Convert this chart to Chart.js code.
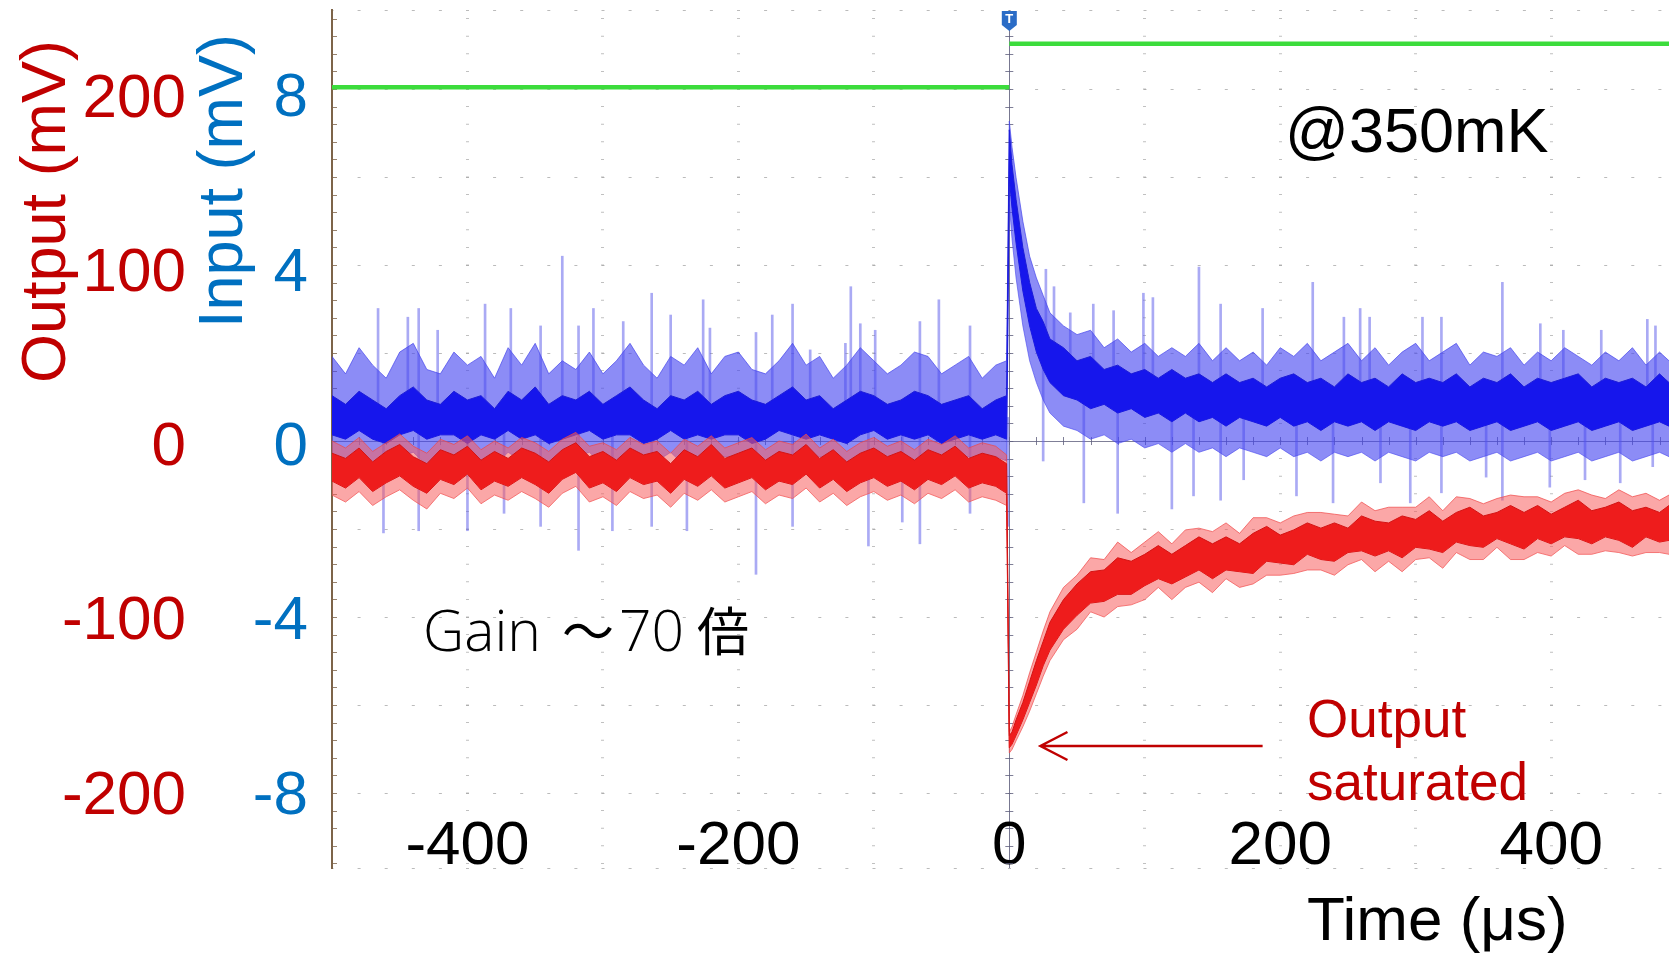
<!DOCTYPE html>
<html>
<head>
<meta charset="utf-8">
<title>Output saturated @350mK</title>
<script src="https://cdn.jsdelivr.net/npm/chart.js@4.4.1/dist/chart.umd.min.js"></script>
<style>
  html, body { margin: 0; padding: 0; background: #fff; }
  #wrap { position: relative; width: 1669px; height: 954px; }
</style>
</head>
<body>
<div id="wrap"><canvas id="scope" width="1669" height="954"></canvas></div>
<script>
/* ============================================================
   Scope capture: input / output of the amplifier at 350 mK
   ============================================================ */

// time base (µs) shared by every envelope array below
const sampleTimes = [
  -500,-490,-480,-470,-460,-450,-440,-430,-420,-410,
  -400,-390,-380,-370,-360,-350,-340,-330,-320,-310,
  -300,-290,-280,-270,-260,-250,-240,-230,-220,-210,
  -200,-190,-180,-170,-160,-150,-140,-130,-120,-110,
  -100,-90,-80,-70,-60,-50,-40,-30,-20,-10,
  -2,
  0,2,5,10,15,20,25,30,40,50,
  60,70,80,90,100,110,120,130,140,150,
  160,170,180,190,200,210,220,230,240,250,
  260,270,280,290,300,310,320,330,340,350,
  360,370,380,390,400,410,420,430,440,450,
  460,470,480,487
];

// Input (blue, mV) - outer envelope
const blueOuterHi = [
  2.1,1.7,2.3,1.9,1.6,2.2,2.4,1.8,1.7,2.2, 1.9,2.1,1.6,2.3,1.9,2.4,1.7,2.0,1.8,2.2,
  1.7,2.0,2.4,1.9,1.6,2.1,1.9,2.3,1.7,2.1, 2.2,1.8,1.7,2.0,2.4,1.9,2.1,1.6,1.9,2.3,
  2.0,1.7,1.9,2.2,2.1,1.7,1.9,2.1,1.6,1.9, 2.0,
  7.5,6.9,6.2,5.2,4.4,3.9,3.5,3.1,2.8,2.6, 2.7,2.3,2.5,2.2,2.4,2.1,2.3,2.1,2.4,2.0,
  2.3,2.0,2.2,1.9,2.3,2.1,2.4,2.0,2.2,2.4, 2.0,2.3,1.9,2.2,2.4,2.0,2.2,2.4,1.9,2.2,
  2.1,2.3,1.9,2.2,2.0,2.3,2.1,1.9,2.2,2.0, 2.3,1.9,2.2,2.0
];
const blueOuterLo = [
  -0.2,-0.4,-0.1,-0.3,-0.5,-0.2,-0.1,-0.4,-0.3,-0.2, -0.5,-0.3,-0.4,-0.1,-0.3,-0.2,-0.5,-0.4,-0.2,-0.1,
  -0.4,-0.3,-0.2,-0.5,-0.3,-0.1,-0.4,-0.2,-0.3,-0.2, -0.2,-0.5,-0.3,-0.1,-0.2,-0.4,-0.2,-0.3,-0.5,-0.2,
  -0.1,-0.4,-0.2,-0.3,-0.2,-0.5,-0.3,-0.2,-0.4,-0.2, -0.3,
  5.6,4.8,3.9,2.8,2.0,1.5,1.1,0.8,0.5,0.4, 0.2,0.3,0.1,0.2,0.0,0.1,-0.1,0.1,-0.1,0.0,
  -0.2,0.0,-0.1,-0.2,0.0,-0.2,-0.1,-0.3,-0.1,-0.2, -0.1,-0.3,-0.1,-0.2,-0.3,-0.1,-0.2,-0.1,-0.3,-0.2,
  -0.1,-0.3,-0.2,-0.1,-0.3,-0.2,-0.1,-0.3,-0.2,-0.1, -0.3,-0.2,-0.1,-0.2
];
// Input (blue, mV) - dense core of the trace
const blueCoreHi = [
  1.2,1.0,1.3,1.1,0.9,1.2,1.4,1.1,1.0,1.3, 1.1,1.2,0.9,1.3,1.1,1.4,1.0,1.2,1.1,1.3,
  1.0,1.2,1.4,1.1,0.9,1.2,1.1,1.3,1.0,1.2, 1.3,1.1,1.0,1.2,1.4,1.1,1.2,0.9,1.1,1.3,
  1.2,1.0,1.1,1.3,1.2,1.0,1.1,1.2,0.9,1.1, 1.2,
  7.3,6.5,5.7,4.6,3.8,3.2,2.9,2.5,2.3,2.0, 2.1,1.8,1.9,1.7,1.8,1.6,1.8,1.6,1.7,1.5,
  1.7,1.5,1.6,1.4,1.6,1.7,1.5,1.6,1.4,1.7, 1.5,1.6,1.4,1.7,1.5,1.6,1.5,1.7,1.4,1.6,
  1.5,1.7,1.4,1.6,1.5,1.6,1.7,1.4,1.6,1.5, 1.6,1.4,1.7,1.5
];
const blueCoreLo = [
  0.3,0.2,0.4,0.2,0.1,0.3,0.4,0.2,0.3,0.3, 0.1,0.3,0.2,0.4,0.2,0.3,0.1,0.2,0.3,0.4,
  0.2,0.3,0.3,0.1,0.2,0.4,0.2,0.3,0.2,0.3, 0.3,0.1,0.2,0.4,0.3,0.2,0.3,0.2,0.1,0.3,
  0.4,0.2,0.3,0.2,0.3,0.1,0.2,0.3,0.2,0.3, 0.2,
  6.2,5.5,4.7,3.6,2.8,2.2,1.8,1.5,1.2,1.1, 0.9,1.0,0.8,0.9,0.7,0.8,0.6,0.8,0.6,0.7,
  0.5,0.7,0.6,0.5,0.7,0.5,0.6,0.4,0.6,0.5, 0.6,0.4,0.6,0.5,0.4,0.6,0.5,0.6,0.4,0.5,
  0.6,0.4,0.5,0.6,0.4,0.5,0.6,0.4,0.5,0.6, 0.4,0.5,0.6,0.5
];

// Output (red, mV) - pink outer envelope
const redOuterHi = [
  4,0,6,-2,3,8,1,-3,5,2, 7,-1,4,0,6,3,-2,5,9,1,
  3,-1,6,2,4,-3,5,1,7,0, 3,6,-1,4,2,8,0,5,-2,3,
  6,1,4,-1,5,2,7,0,3,1, -4,
  -163,-160,-153,-142,-129,-117,-105,-94,-80,-73, -63,-64,-54,-60,-54,-48,-55,-47,-46,-48,
  -43,-49,-40,-40,-43,-39,-37,-37,-38,-39, -31,-36,-34,-34,-34,-28,-36,-28,-29,-32,
  -29,-27,-28,-28,-31,-26,-24,-27,-29,-24, -28,-26,-30,-27
];
const redOuterLo = [
  -27,-31,-25,-33,-28,-24,-30,-35,-26,-29, -23,-32,-27,-30,-25,-29,-34,-26,-22,-31,
  -28,-33,-25,-29,-27,-34,-26,-30,-24,-31, -28,-25,-32,-27,-29,-23,-31,-26,-33,-28,
  -25,-30,-27,-32,-26,-29,-24,-31,-28,-30, -33,
  -175,-173,-168,-160,-151,-141,-131,-122,-110,-104, -94,-97,-91,-90,-87,-80,-87,-80,-77,-83,
  -75,-80,-78,-73,-73,-72,-70,-70,-73,-67, -64,-71,-65,-71,-64,-63,-69,-60,-64,-64,
  -57,-64,-64,-60,-62,-56,-61,-61,-59,-60, -62,-60,-60,-61
];
// Output (red, mV) - dense core
const redCoreHi = [
  -3,-6,0,-8,-2,2,-5,-9,-1,-4, 1,-7,-2,-6,0,-3,-8,-1,3,-5,
  -2,-7,0,-4,-2,-9,-1,-5,2,-6, -3,0,-7,-2,-4,2,-6,-1,-8,-3,
  0,-5,-2,-7,-1,-4,1,-6,-3,-5, -9,
  -165,-163,-156,-146,-134,-122,-111,-100,-87,-78, -71,-70,-63,-65,-61,-56,-61,-56,-51,-55,
  -51,-55,-49,-45,-50,-47,-43,-46,-43,-46, -39,-42,-43,-39,-41,-36,-42,-37,-34,-39,
  -37,-33,-37,-33,-38,-34,-30,-36,-34,-31, -36,-34,-37,-33
];
const redCoreLo = [
  -19,-23,-17,-25,-20,-16,-22,-26,-18,-21, -15,-24,-19,-22,-17,-21,-26,-18,-14,-23,
  -20,-25,-17,-21,-19,-26,-18,-22,-16,-23, -20,-17,-24,-19,-21,-15,-23,-18,-25,-20,
  -17,-22,-19,-24,-18,-21,-16,-23,-20,-22, -26,
  -172,-170,-165,-156,-146,-136,-125,-116,-104,-96, -89,-88,-84,-84,-79,-75,-78,-74,-70,-75,
  -70,-71,-72,-65,-66,-67,-61,-64,-65,-60, -59,-62,-59,-63,-57,-58,-60,-54,-56,-57,
  -52,-55,-58,-52,-55,-51,-52,-55,-51,-53, -57,-51,-54,-53
];

// single light-blue spikes on the input trace (µs, mV)
const spikeTimes = [
  -466,-462,-444,-436,-422,-400,-387,-373,-368,-346, -330,-318,-307,-293,-285,-264,-250,-238,-226,-221,
  -187,-175,-160,-147,-121,-117,-110,-104,-99,-79, -66,-52,-29,-1,
  25,27,33,45,55,62,77,80,99,106, 120,136,140,156,173,187,212,224,239,247,
  259,266,274,296,305,319,352,364,392,399, 409,425,437,451,471,475,477
];
const spikeLo = [
  0.7,-1.95,0.7,-1.9,0.7,-1.9,0.7,-1.5,0.7,-1.8, 0.7,-2.35,0.7,-1.9,0.7,-1.8,0.7,-1.9,0.7,0.7,
  -2.9,0.7,-1.8,0.7,0.7,0.7,0.7,-2.25,0.7,-1.7, -2.2,0.7,-1.5,-1.8,
  -0.3,2.3,2.0,1.6,-1.26,1.4,1.3,-1.5,1.2,1.2, -1.4,-1.1,1.1,-1.2,-0.73,1.0,-1.1,1.0,-1.26,1.0,
  1.0,1.0,-0.8,-1.26,1.0,-1.03,-0.67,-1.2,1.0,-0.9, 1.0,-0.73,1.0,-0.8,1.0,-0.43,1.0
];
const spikeHi = [
  3.2,0.7,3.0,3.2,2.7,0.7,3.3,0.7,3.2,2.8, 4.4,2.8,3.2,0.7,2.9,3.55,3.05,0.7,3.4,2.75,
  2.65,3.05,3.3,2.25,2.4,3.7,2.85,0.7,2.7,0.7, 2.9,3.4,2.8,0.7,
  2.4,4.1,3.7,3.1,1.5,3.3,3.15,1.3,3.55,3.45, 1.2,1.1,4.15,3.3,1.0,3.2,1.0,3.8,1.0,3.0,
  3.2,3.0,1.0,1.0,3.0,3.0,1.0,3.8,2.85,1.0, 2.7,1.0,2.7,1.0,2.95,1.0,2.8
];

// green gate channel, read on the output scale (mV)
const gateTimes = [-500, 0, 0, 0, 487];
const gateLevels = [207, 207, null, 232, 232];

// axes
const outputTicks = [-200, -100, 0, 100, 200];
const inputTicks = [-8, -4, 0, 4, 8];
const timeLabelEvery = 200;

const TIME_MIN = -500, TIME_MAX = 487;
const OUT_MIN = -241, OUT_MAX = 251.3;
const IN_MIN = -9.64, IN_MAX = 10.05;
const DIV_MIN = -4.852, DIV_MAX = 4.898;   // scope graticule, 1 = one division

const RED = '#c00000';
const BLUE = '#0070c0';
const FONT = '"Liberation Sans", Arial, sans-serif';

const pts = (times, values) => times.map((t, i) => ({ x: t, y: values[i] }));

function bandLine(values, axis, fill, border, order, fillTo) {
  return {
    type: 'line',
    data: pts(sampleTimes, values),
    yAxisID: axis,
    borderColor: border,
    backgroundColor: fill,
    borderWidth: 1,
    pointRadius: 0,
    tension: 0,
    fill: fillTo ? '+1' : false,
    order
  };
}

// graticule minor ticks, trigger badge and the hand-placed texts
const scopeOverlay = {
  id: 'scopeOverlay',
  beforeDatasetsDraw(chart) {
    const { ctx, chartArea: a, scales: { x, yDiv } } = chart;
    const cx = x.getPixelForValue(0);
    const cy = yDiv.getPixelForValue(0);
    ctx.save();
    ctx.lineWidth = 1;
    ctx.strokeStyle = 'rgba(95,95,125,0.8)';
    ctx.beginPath();
    for (let d = -25; d <= 25; d++) {
      const py = Math.round(yDiv.getPixelForValue(d * 0.2)) + 0.5;
      if (py < a.top || py > a.bottom) continue;
      ctx.moveTo(cx - 4, py); ctx.lineTo(cx + 4, py);
    }
    for (let t = -500; t <= 500; t += 20) {
      const px = Math.round(x.getPixelForValue(t)) + 0.5;
      if (px < a.left || px > a.right) continue;
      ctx.moveTo(px, cy - 4); ctx.lineTo(px, cy + 4);
    }
    ctx.stroke();
    ctx.strokeStyle = 'rgba(125,100,75,0.8)';
    ctx.beginPath();
    for (let d = -25; d <= 25; d++) {
      const py = Math.round(yDiv.getPixelForValue(d * 0.2)) + 0.5;
      if (py < a.top || py > a.bottom) continue;
      ctx.moveTo(a.left, py); ctx.lineTo(a.left + 5, py);
    }
    ctx.stroke();
    ctx.restore();
  },
  afterDraw(chart) {
    const { ctx, chartArea: a, scales: { x, yOut } } = chart;
    ctx.save();

    // trigger badge
    const tx = x.getPixelForValue(0);
    ctx.fillStyle = '#2a6cc6';
    ctx.beginPath();
    ctx.moveTo(tx - 7.5, a.top + 1);
    ctx.lineTo(tx + 7.5, a.top + 1);
    ctx.lineTo(tx + 7.5, a.top + 15);
    ctx.lineTo(tx, a.top + 21);
    ctx.lineTo(tx - 7.5, a.top + 15);
    ctx.closePath();
    ctx.fill();
    ctx.fillStyle = '#fff';
    ctx.font = 'bold 13px ' + FONT;
    ctx.textAlign = 'center';
    ctx.textBaseline = 'middle';
    ctx.fillText('T', tx, a.top + 9);

    // rotated axis titles
    ctx.textAlign = 'left';
    ctx.textBaseline = 'alphabetic';
    ctx.font = '63px ' + FONT;
    ctx.save();
    ctx.translate(65, 383);
    ctx.rotate(-Math.PI / 2);
    ctx.fillStyle = RED;
    ctx.fillText('Output (mV)', 0, 0);
    ctx.restore();
    ctx.save();
    ctx.translate(242, 328);
    ctx.rotate(-Math.PI / 2);
    ctx.fillStyle = BLUE;
    ctx.fillText('Input (mV)', 0, 0);
    ctx.restore();

    // notes
    ctx.fillStyle = '#000';
    ctx.font = '63px ' + FONT;
    ctx.fillText('@350mK', 1285, 152);
    ctx.font = '62px ' + FONT;
    ctx.fillText('Time (\u03bcs)', 1307, 940);

    ctx.font = '300 57px "Open Sans", "Noto Sans CJK JP", sans-serif';
    ctx.fillText('Gain', 423, 651);
    ctx.font = '52px "Noto Sans CJK JP", sans-serif';
    ctx.fillText('\uff5e', 562, 651);
    ctx.font = '300 57px "Open Sans", "Noto Sans CJK JP", sans-serif';
    ctx.fillText('70', 619, 651);
    ctx.font = '52px "Noto Sans CJK JP", sans-serif';
    ctx.fillText('\u500d', 697, 651);

    ctx.fillStyle = RED;
    ctx.font = '53px ' + FONT;
    ctx.fillText('Output', 1307, 737);
    ctx.fillText('saturated', 1307, 800);

    // arrow pointing at the clipped minimum
    const ay = yOut.getPixelForValue(-171);
    const ax0 = x.getPixelForValue(23);
    const ax1 = x.getPixelForValue(187);
    ctx.strokeStyle = RED;
    ctx.lineWidth = 2.5;
    ctx.beginPath();
    ctx.moveTo(ax1, ay); ctx.lineTo(ax0, ay);
    ctx.moveTo(ax0 + 27, ay - 14); ctx.lineTo(ax0, ay); ctx.lineTo(ax0 + 27, ay + 14);
    ctx.stroke();

    ctx.restore();
  }
};

const zeroPads = s => { s.paddingTop = 0; s.paddingBottom = 0; s.paddingLeft = 0; s.paddingRight = 0; };

new Chart(document.getElementById('scope').getContext('2d'), {
  type: 'line',
  data: {
    datasets: [
      {
        type: 'bar',
        data: spikeTimes.map((t, i) => ({ x: t, y: [spikeLo[i], spikeHi[i]] })),
        yAxisID: 'yIn',
        backgroundColor: 'rgba(100,100,235,0.55)',
        borderWidth: 0,
        barThickness: 2,
        order: 7
      },
      bandLine(blueOuterHi, 'yIn', 'rgba(70,70,240,0.62)', 'rgba(70,70,235,0.7)', 6, true),
      bandLine(blueOuterLo, 'yIn', 'transparent', 'rgba(70,70,235,0.6)', 6, false),
      bandLine(blueCoreHi, 'yIn', '#1616ec', '#1c1cd8', 5, true),
      bandLine(blueCoreLo, 'yIn', 'transparent', '#1c1cd8', 5, false),
      bandLine(redOuterHi, 'yOut', 'rgba(248,95,95,0.55)', 'rgba(240,70,70,0.7)', 4, true),
      bandLine(redOuterLo, 'yOut', 'transparent', 'rgba(240,70,70,0.7)', 4, false),
      bandLine(redCoreHi, 'yOut', '#ee1c1c', '#d41212', 3, true),
      bandLine(redCoreLo, 'yOut', 'transparent', '#d41212', 3, false),
      {
        type: 'line',
        data: pts(gateTimes, gateLevels),
        yAxisID: 'yOut',
        borderColor: '#3cdc3c',
        borderWidth: 4.5,
        pointRadius: 0,
        tension: 0,
        spanGaps: false,
        fill: false,
        order: 1
      }
    ]
  },
  options: {
    responsive: false,
    devicePixelRatio: 1,
    animation: false,
    events: [],
    layout: { padding: { top: 10, right: 0, bottom: 0, left: 0 } },
    plugins: { legend: { display: false }, tooltip: { enabled: false } },
    scales: {
      x: {
        type: 'linear',
        position: 'bottom',
        min: TIME_MIN,
        max: TIME_MAX,
        offset: false,
        grid: {
          offset: false,
          drawTicks: false,
          color: c => c.tick && c.tick.value === 0 ? 'rgba(95,95,125,0.85)'
                    : c.tick && c.tick.value === TIME_MIN ? 'rgba(0,0,0,0)' : 'rgba(150,150,150,0.6)',
          lineWidth: c => c.tick && c.tick.value === 0 ? 1 : 3
        },
        border: {
          display: false,
          dash: c => c.tick && c.tick.value === 0 ? [] : [1, 16.6],
          dashOffset: 9.5
        },
        ticks: {
          stepSize: 100,
          includeBounds: false,
          autoSkip: false,
          maxRotation: 0,
          minRotation: 0,
          mirror: true,
          padding: -16,
          color: '#000',
          font: { family: FONT, size: 62 },
          callback: v => (v % timeLabelEvery === 0 ? String(v) : '')
        },
        afterFit: s => { s.height = 86; zeroPads(s); }
      },
      yOut: {
        type: 'linear',
        position: 'left',
        weight: 2,
        min: OUT_MIN,
        max: OUT_MAX,
        grid: { display: false, drawTicks: false },
        border: { display: false },
        ticks: {
          autoSkip: false,
          padding: 14,
          color: RED,
          font: { family: FONT, size: 62 }
        },
        afterBuildTicks: s => { s.ticks = outputTicks.map(v => ({ value: v })); },
        afterFit: s => { s.width = 200; zeroPads(s); }
      },
      yIn: {
        type: 'linear',
        position: 'left',
        weight: 1,
        min: IN_MIN,
        max: IN_MAX,
        grid: { display: false, drawTicks: false },
        border: { display: true, color: '#7d6449', width: 2 },
        ticks: {
          autoSkip: false,
          padding: 24,
          color: BLUE,
          font: { family: FONT, size: 62 }
        },
        afterBuildTicks: s => { s.ticks = inputTicks.map(v => ({ value: v })); },
        afterFit: s => { s.width = 132; zeroPads(s); }
      },
      yDiv: {
        type: 'linear',
        position: 'right',
        min: DIV_MIN,
        max: DIV_MAX,
        grid: {
          drawTicks: false,
          color: c => c.tick && c.tick.value === 0 ? 'rgba(95,95,125,0.8)' : 'rgba(150,150,150,0.65)',
          lineWidth: 1
        },
        border: {
          display: false,
          dash: c => c.tick && c.tick.value === 0 ? [] : [3, 24.1],
          dashOffset: 1.5
        },
        ticks: { display: false, stepSize: 1 },
        afterFit: s => { s.width = 0; zeroPads(s); }
      }
    }
  },
  plugins: [scopeOverlay]
});
</script>
</body>
</html>
